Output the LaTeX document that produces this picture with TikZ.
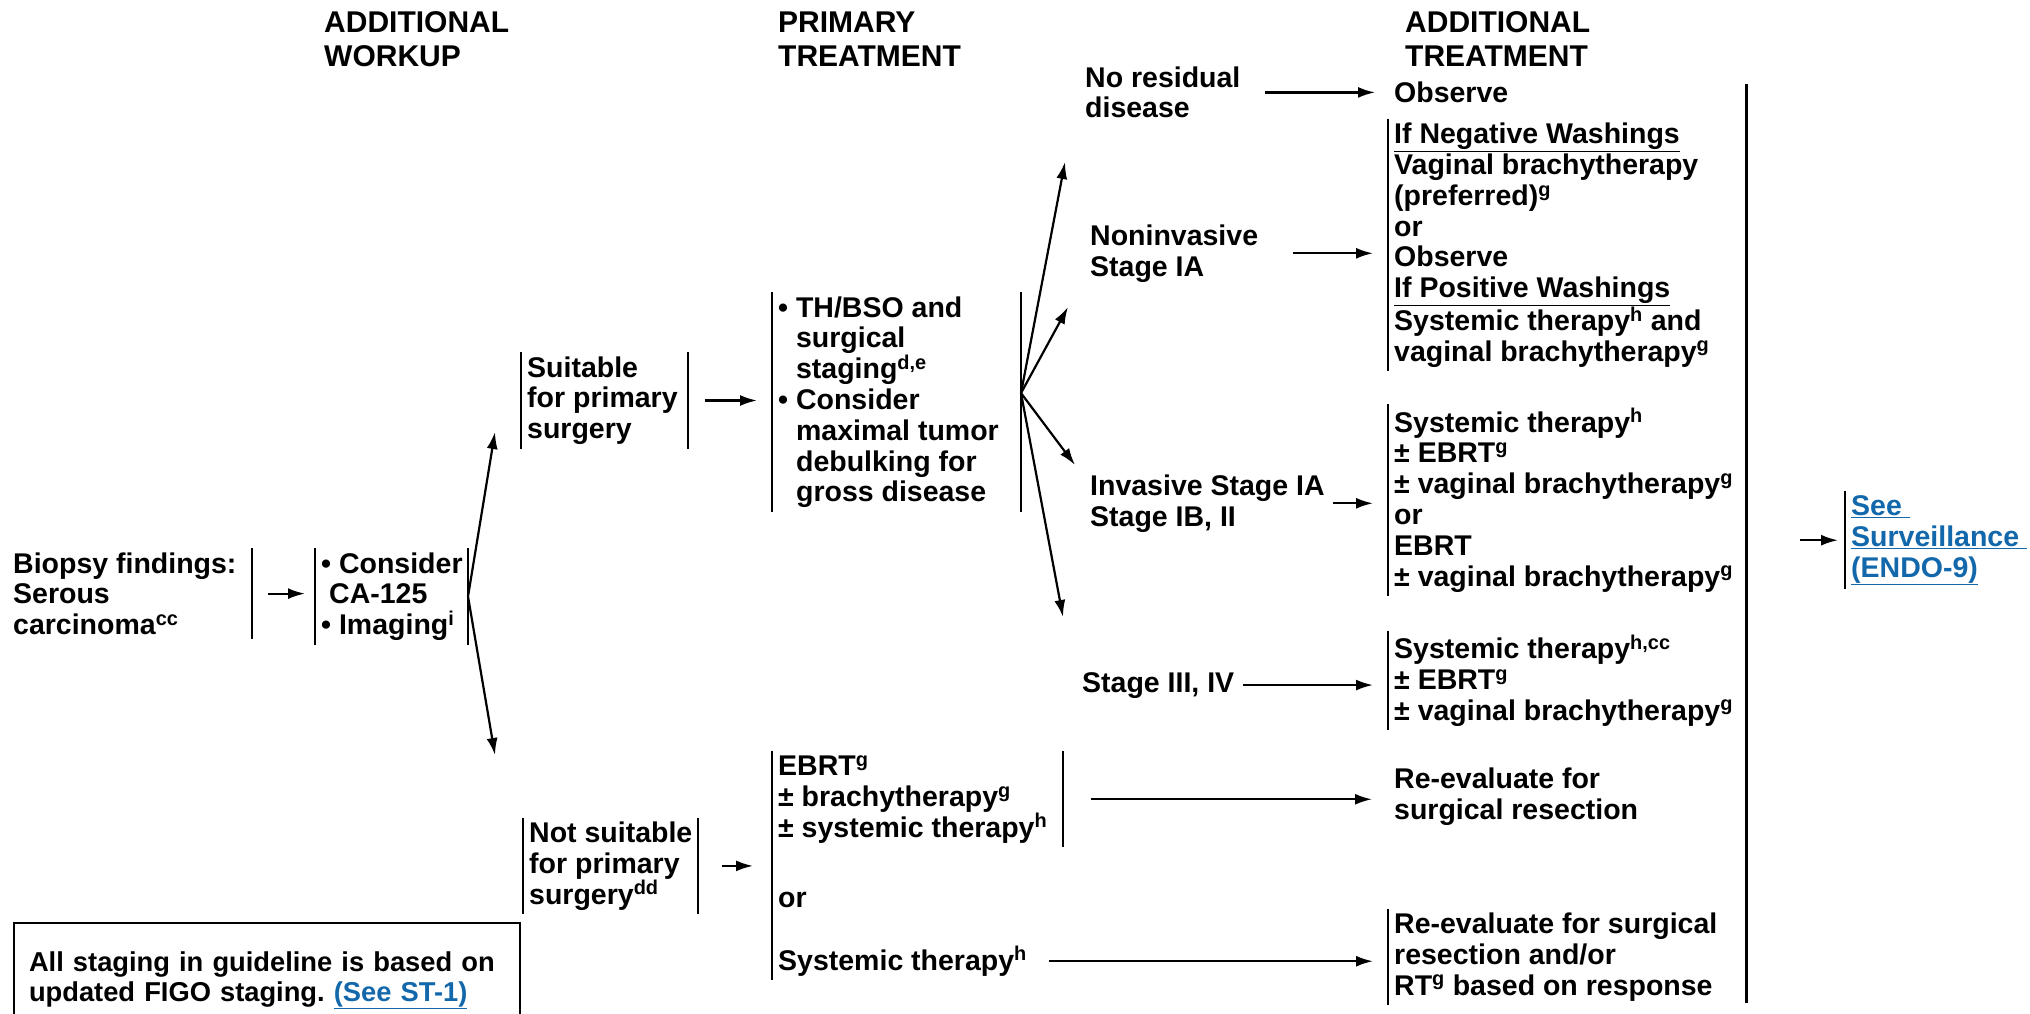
\documentclass[tikz,border=0pt]{standalone}
\usepackage{fontspec}
\setmainfont{Liberation Sans}
\usetikzlibrary{arrows.meta}
\definecolor{linkblue}{RGB}{18,104,170}
\newcommand{\bodyfont}{\fontsize{28.5}{30.8}\selectfont\bfseries\frenchspacing}
\newcommand{\headfont}{\fontsize{30}{34}\selectfont\bfseries}
\newcommand{\notefont}{\fontsize{27.3}{30}\selectfont\bfseries\frenchspacing}
\newcommand{\sups}[1]{\textsuperscript{#1}}

\begin{document}
\begin{tikzpicture}[
    x=1pt, y=-1pt,
    every node/.style={inner sep=0pt, align=left, anchor=base west, font=\bodyfont},
    head/.style={font=\headfont},
    box/.style={inner xsep=6pt, inner ysep=4pt},
    bar/.style={line width=2.5pt},
    arr/.style={line width=2.2pt, -{Latex[length=17pt,width=11pt]}},
    link/.style={text=linkblue}
  ]
  \useasboundingbox (0,0) rectangle (2030,1014);

  % Column headings (placed by the baseline of their last line)
  \node[head] (hwork) at (324,67) {ADDITIONAL\\WORKUP};
  \node[head] (hprim) at (778,67) {PRIMARY\\TREATMENT};
  \node[head] (hadd) at (1405,67) {ADDITIONAL\\TREATMENT};

  % Workup and primary treatment
  \node[box] (bio) at (7,634.6) {Biopsy findings:\\Serous\\carcinoma\sups{cc}};
  \node[box] (work) at (315,634.6) {•~Consider\\\hspace*{8pt}CA-125\\•~Imaging\sups{i}};
  \node[box] (suit) at (521,438.6) {Suitable\\for primary\\surgery};
  \node[box] (nots) at (523,904) {Not suitable\\for primary\\surgery\sups{dd}};
  \node[box] (prim) at (772,501.8) {•~TH/BSO and\\\hphantom{•~}surgical\\\hphantom{•~}staging\sups{d,e}\\•~Consider\\\hphantom{•~}maximal tumor\\\hphantom{•~}debulking for\\\hphantom{•~}gross disease};
  \node[box] (ns1) at (772,837) {EBRT\sups{g}\\± brachytherapy\sups{g}\\± systemic therapy\sups{h}};
  \node[box] (nsor) at (772,907) {or};
  \node[box] (nssys) at (772,970) {Systemic therapy\sups{h}};

  % Surgical stages
  \node (nores) at (1085,118) {No residual\\disease};
  \node (nonin) at (1090,276) {Noninvasive\\Stage IA};
  \node (inv) at (1090,526) {Invasive Stage IA\\Stage IB, II};
  \node (st3) at (1082,692) {Stage III, IV};

  % Additional treatment
  \node (obs) at (1394,103) {Observe};
  \node[box] (ni) at (1388,361) {\underline{If Negative Washings}\\Vaginal brachytherapy\\(preferred)\sups{g}\\or\\Observe\\\underline{If Positive Washings}\\Systemic therapy\sups{h} and\\vaginal brachytherapy\sups{g}};
  \node[box] (invt) at (1388,586) {Systemic therapy\sups{h}\\± EBRT\sups{g}\\± vaginal brachytherapy\sups{g}\\or\\EBRT\\± vaginal brachytherapy\sups{g}};
  \node[box] (st3t) at (1388,720) {Systemic therapy\sups{h,cc}\\± EBRT\sups{g}\\± vaginal brachytherapy\sups{g}};
  \node (re1) at (1394,819) {Re-evaluate for\\surgical resection};
  \node[box] (re2) at (1388,995) {Re-evaluate for surgical\\resection and/or\\RT\sups{g} based on response};
  \node[box, link] (surv) at (1845,577) {\underline{See\ }\\\underline{Surveillance\ }\\\underline{(ENDO-9)}};

  \node[draw, line width=2pt, anchor=north west, inner xsep=15pt, inner ysep=0pt, minimum height=115pt, text width=476pt, font=\notefont] (note) at (13,922) {All staging in guideline is based on\\updated FIGO staging. {\color{linkblue}\underline{(See ST-1)}}};

  % Bars
  \draw[bar] ([xshift=245pt]bio.north west) -- ([xshift=245pt]bio.south west);
  \draw[bar] (work.north west) -- (work.south west);
  \draw[bar] ([xshift=153pt]work.north west) -- ([xshift=153pt]work.south west);
  \draw[bar] (suit.north west) -- (suit.south west);
  \draw[bar] ([xshift=167pt]suit.north west) -- ([xshift=167pt]suit.south west);
  \draw[bar] (nots.north west) -- (nots.south west);
  \draw[bar] ([xshift=175pt]nots.north west) -- ([xshift=175pt]nots.south west);
  \draw[bar] (prim.north west) -- (prim.south west);
  \draw[bar] ([xshift=249pt]prim.north west) -- ([xshift=249pt]prim.south west);
  \draw[bar] (ns1.north west) -- (ns1.north west |- nssys.south);
  \draw[bar] ([xshift=291pt]ns1.north west) -- ([xshift=291pt]ns1.south west);
  \draw[bar] (ni.north west) -- (ni.south west);
  \draw[bar] (invt.north west) -- (invt.south west);
  \draw[bar] (st3t.north west) -- (st3t.south west);
  \draw[bar] (re2.north west) -- (re2.south west);
  \draw[bar] (surv.north west) -- (surv.south west);
  \coordinate (lbT) at (1746,84);
  \coordinate (lbB) at (1746,1003);
  \draw[bar, line width=3pt] (lbT) -- (lbB);

  % Arrows
  \draw[arr] ([xshift=261pt]bio.west) -- ([xshift=-10pt]bio.west -| work.west);
  \coordinate (wfork) at ([xshift=153pt]work.west);
  \coordinate (suitTip) at (495,432);
  \coordinate (notsTip) at (495,755);
  \draw[arr] (wfork) -- (suitTip);
  \draw[arr] (wfork) -- (notsTip);
  \draw[arr] ([xshift=184pt]suit.west) -- ([xshift=-15pt]suit.west -| prim.west);
  \draw[arr] ([xshift=199pt]nots.west) -- ([xshift=-19pt]nots.west -| ns1.west);

  \coordinate (pfork) at ([xshift=249pt,yshift=9pt]prim.west);
  \coordinate (t1) at (1065,162);
  \coordinate (t2) at (1068,307);
  \coordinate (t3) at (1075,465);
  \coordinate (t4) at (1063,617);
  \foreach \t in {t1,t2,t3,t4}
    \draw[arr] (pfork) -- (\t);

  \draw[arr] ([xshift=180pt]nores.west) -- ([xshift=-19pt]nores.west -| obs.west);
  \draw[arr] ([xshift=203pt]nonin.west) -- ([xshift=-15pt]nonin.west -| ni.west);
  \draw[arr] ([xshift=243pt]inv.west) -- ([xshift=-15pt]inv.west -| invt.west);
  \draw[arr] ([xshift=161pt]st3.west) -- ([xshift=-15pt]st3.west -| st3t.west);
  \draw[arr] ([xshift=319pt]ns1.west) -- ([xshift=-22pt]ns1.west -| re1.west);
  \draw[arr] ([xshift=277pt]nssys.west) -- ([xshift=-15pt]nssys.west -| re2.west);
  \draw[arr] ([xshift=-45pt]surv.west) -- ([xshift=-7pt]surv.west);
\end{tikzpicture}
\end{document}
